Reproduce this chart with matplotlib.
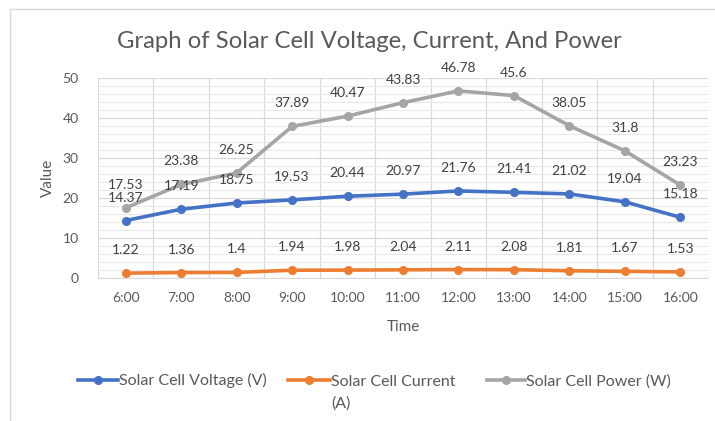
import matplotlib
matplotlib.use("Agg")
import matplotlib.pyplot as plt
from matplotlib.lines import Line2D
import numpy as np

times = ["6:00", "7:00", "8:00", "9:00", "10:00", "11:00", "12:00", "13:00", "14:00", "15:00", "16:00"]
voltage = [14.37, 17.19, 18.75, 19.53, 20.44, 20.97, 21.76, 21.41, 21.02, 19.04, 15.18]
current = [1.22, 1.36, 1.4, 1.94, 1.98, 2.04, 2.11, 2.08, 1.81, 1.67, 1.53]
power = [17.53, 23.38, 26.25, 37.89, 40.47, 43.83, 46.78, 45.6, 38.05, 31.8, 23.23]
labels = ["Solar Cell Voltage (V)", "Solar Cell Current\n(A)", "Solar Cell Power (W)"]
colors = ["#4472C4", "#ED7D31", "#A5A5A5"]

plt.rcParams['font.family'] = ['Lato', 'DejaVu Sans']
txt = "#595959"

fig = plt.figure(figsize=(7.15, 4.21), dpi=100)
W, H = 715, 421
ax = fig.add_axes([98 / W, 1 - 278 / H, 610 / W, 200 / H])

x = np.arange(len(times))
series = [voltage, current, power]
for i in [2, 0, 1]:
    ax.plot(x, series[i], color=colors[i], lw=2.6, marker='o', ms=5.5, zorder=3)
for i in range(3):
    for xi, v in zip(x, series[i]):
        ax.annotate(f"{v:g}", (xi, v), xytext=(0, 23), textcoords='offset pixels',
                    ha='center', va='center', fontsize=10, color="#404040", zorder=5)

ax.set_xlim(-0.5, len(times) - 0.5)
ax.set_ylim(0, 50)
ax.set_yticks(np.arange(0, 51, 10))
ax.set_yticks(np.arange(0, 51, 2), minor=True)
ax.set_xticks(x)
ax.set_xticklabels(times)
ax.set_xticks(np.arange(-0.5, len(times), 1), minor=True)
ax.grid(which='major', axis='y', color='#D9D9D9', lw=0.9)
ax.grid(which='minor', axis='y', color='#E8E8E8', lw=0.8)
ax.grid(which='minor', axis='x', color='#D9D9D9', lw=0.9)
ax.tick_params(which='both', length=0)
ax.tick_params(axis='both', labelsize=10, labelcolor=txt)
ax.tick_params(axis='x', pad=10)
ax.tick_params(axis='y', pad=14)
for s in ['top', 'right', 'left']:
    ax.spines[s].set_visible(False)
ax.spines['bottom'].set_color('#D9D9D9')
ax.set_axisbelow(True)

fig.text(369 / W, 1 - 42 / H, "Graph of Solar Cell Voltage, Current, And Power",
         ha='center', va='center', fontsize=17.2, color=txt)
fig.text(48 / W, 1 - 178 / H, "Value", rotation=90, ha='center', va='center', fontsize=11, color=txt)
fig.text(403 / W, 1 - 327 / H, "Time", ha='center', va='center', fontsize=11, color=txt)

# manual legend
leg_x = [(78, 118), (288, 330), (487, 525)]
ly = 1 - 380 / H
for (x0, x1), lab, c in zip(leg_x, labels, colors):
    fig.add_artist(Line2D([x0 / W, x1 / W], [ly, ly], color=c, lw=2.6,
                          transform=fig.transFigure))
    fig.add_artist(Line2D([(x0 + x1) / 2 / W], [ly], color=c, marker='o', ms=5.5,
                          transform=fig.transFigure))
    for k, line in enumerate(lab.split("\n")):
        fig.text((x1 + 1) / W, ly - (5.5 + 22 * k) / H, line, ha='left', va='baseline',
                 fontsize=11.5, color=txt)

# chart border
fig.add_artist(Line2D([10 / W, 1.0], [1 - 9 / H, 1 - 9 / H], color='#D9D9D9', lw=1, transform=fig.transFigure))
fig.add_artist(Line2D([10 / W, 10 / W], [0, 1 - 9 / H], color='#D9D9D9', lw=1, transform=fig.transFigure))

fig.savefig("out.png", dpi=100)
